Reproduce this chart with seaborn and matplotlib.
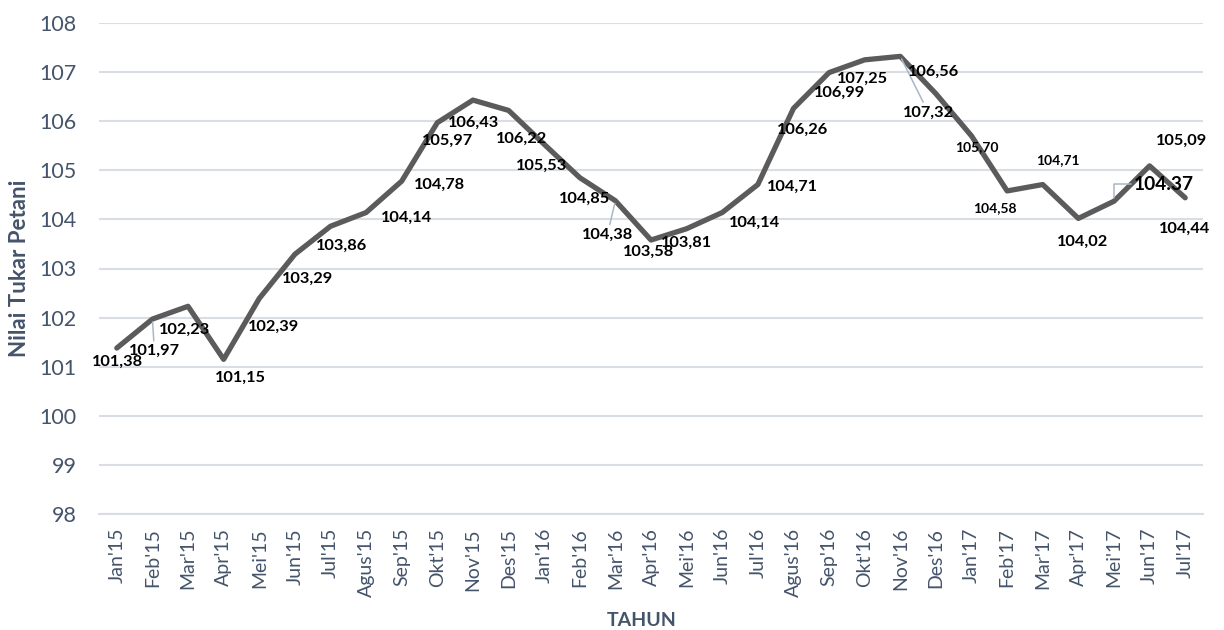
import matplotlib
matplotlib.use("Agg")
import matplotlib.pyplot as plt
import seaborn as sns
import pandas as pd

# Monthly farmer exchange rate (NTP), Jan 2015 - Jul 2017
bulan = ["Jan'15", "Feb'15", "Mar'15", "Apr'15", "Mei'15", "Jun'15", "Jul'15",
         "Agus'15", "Sep'15", "Okt'15", "Nov'15", "Des'15",
         "Jan'16", "Feb'16", "Mar'16", "Apr'16", "Mei'16", "Jun'16", "Jul'16",
         "Agus'16", "Sep'16", "Okt'16", "Nov'16", "Des'16",
         "Jan'17", "Feb'17", "Mar'17", "Apr'17", "Mei'17", "Jun'17", "Jul'17"]
ntp = [101.38, 101.97, 102.23, 101.15, 102.39, 103.29, 103.86,
       104.14, 104.78, 105.97, 106.43, 106.22,
       105.53, 104.85, 104.38, 103.58, 103.81, 104.14, 104.71,
       106.26, 106.99, 107.25, 107.32, 106.56,
       105.70, 104.58, 104.71, 104.02, 104.37, 105.09, 104.44]
y_ticks = list(range(98, 109))

# Label placement (pixel offsets right / down from each point), sizes, leaders
label_dx = [1, 2, -3, 17, 14, 13, 11, 40, 38, 10, 1, 13, -3, 5, -8, -2, 0, 32, 35,
            9, 11, -2, 28, -2, 5, -12, 15, 4, 50, 32, -1]
label_dy = [14, 32, 23, 18, 28, 25, 20, 5, 4, 18, 23, 28, 22, 21, 34, 12, 14, 10, 2,
            21, 20, 19, 56, -22, 11, 17, -24, 23, -17, -25, 31]
label_size = [11.8] * len(ntp)
for i in (24, 25, 26):
    label_size[i] = 10
label_size[28] = 13.8
leader_idx = {1: "arc3", 14: "arc3", 22: "arc3", 28: "angle,angleA=0,angleB=90,rad=0"}
dot_sep_idx = {28}

TEXT_COLOR = "#44546A"
GRID_COLOR = "#D9DEE5"
LINE_COLOR = "#5B5B5B"

sns.set_theme(style="white")
plt.rcParams["font.family"] = ["Lato", "DejaVu Sans"]

df = pd.DataFrame({"Bulan": bulan, "NTP": ntp})

fig = plt.figure(figsize=(12.24, 6.30), dpi=100)
ax = fig.add_axes([99 / 1224, 1 - 514 / 630, (1203 - 99) / 1224, (514 - 23) / 630])

sns.lineplot(data=df, x="Bulan", y="NTP", sort=False, ax=ax,
             color=LINE_COLOR, linewidth=3.8, zorder=3)

ax.set_xlim(-0.5, len(bulan) - 0.5)
ax.set_ylim(y_ticks[0], y_ticks[-1])
ax.set_yticks(y_ticks)
ax.set_yticklabels([str(t) for t in y_ticks])
ax.set_xticks(range(len(bulan)))
ax.set_xticklabels(bulan, rotation=90)
ax.set_xticks([i - 0.5 for i in range(len(bulan) + 1)], minor=True)

ax.grid(axis="y", color=GRID_COLOR, linewidth=1.5, zorder=0)
ax.grid(axis="x", visible=False)
for side in ("left", "right", "top"):
    ax.spines[side].set_visible(False)
ax.spines["bottom"].set_color(GRID_COLOR)
ax.spines["bottom"].set_linewidth(1.5)

ax.tick_params(axis="y", length=0, pad=16, labelsize=15.5, labelcolor=TEXT_COLOR)
ax.tick_params(axis="x", which="major", length=0, pad=10, labelsize=14,
               labelcolor=TEXT_COLOR)
ax.tick_params(axis="x", which="minor", length=5, width=1.5, color=GRID_COLOR,
               direction="out")

ax.set_xlabel("")
ax.set_ylabel("")
fig.text(20 / 1224, 1 - 268 / 630, "Nilai Tukar Petani", rotation=90,
         ha="center", va="center", fontsize=16, fontweight="bold", color=TEXT_COLOR)
fig.text(642 / 1224, 1 - 620 / 630, "TAHUN", ha="center", va="center",
         fontsize=14, fontweight="bold", color=TEXT_COLOR)

# Data labels
for i, v in enumerate(ntp):
    txt = f"{v:.2f}"
    if i not in dot_sep_idx:
        txt = txt.replace(".", ",")
    kw = {}
    if i in leader_idx:
        kw["arrowprops"] = dict(arrowstyle="-", color="#A9B6C8", linewidth=1.1,
                                shrinkA=0, shrinkB=2,
                                connectionstyle=leader_idx[i])
    ax.annotate(txt, xy=(i, v), xytext=(label_dx[i], -label_dy[i]),
                textcoords="offset pixels", ha="center", va="center",
                fontsize=label_size[i], fontweight="bold", color="black",
                zorder=4, **kw)

fig.savefig("out.png", dpi=100)
